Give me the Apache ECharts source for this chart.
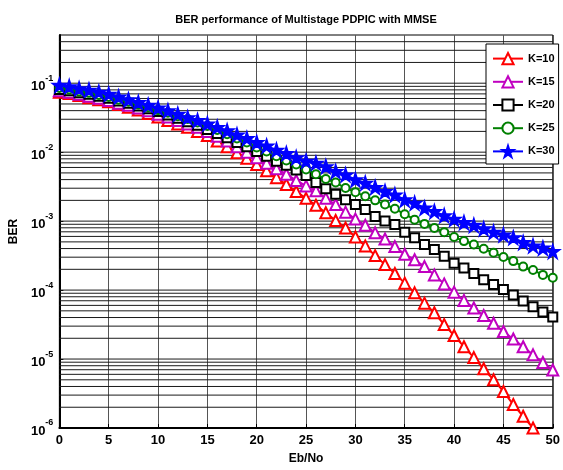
<!DOCTYPE html>
<html>
<head>
<meta charset="utf-8">
<script src="https://cdn.jsdelivr.net/npm/echarts@6/dist/echarts.min.js"></script>
<style>html,body{margin:0;padding:0;background:#fff;}#c{width:563px;height:470px;}</style>
</head>
<body>
<div id="c"></div>
<script>
var ebno = [0,1,2,3,4,5,6,7,8,9,10,11,12,13,14,15,16,17,18,19,20,21,22,23,24,25,26,27,28,29,30,31,32,33,34,35,36,37,38,39,40,41,42,43,44,45,46,47,48,49,50];
var berK10 = [7.41e-2,7.08e-2,6.61e-2,6.17e-2,5.75e-2,5.37e-2,4.90e-2,4.47e-2,4.07e-2,3.63e-2,3.24e-2,2.88e-2,2.57e-2,2.29e-2,2.00e-2,1.74e-2,1.45e-2,1.20e-2,9.77e-3,8.13e-3,6.61e-3,5.37e-3,4.27e-3,3.39e-3,2.69e-3,2.14e-3,1.70e-3,1.32e-3,1.02e-3,7.94e-4,5.89e-4,4.37e-4,3.16e-4,2.34e-4,1.74e-4,1.26e-4,9.12e-5,6.46e-5,4.68e-5,3.16e-5,2.19e-5,1.51e-5,1.05e-5,7.24e-6,5.01e-6,3.39e-6,2.19e-6,1.48e-6,1.00e-6,6.76e-7,4.47e-7];
var berK15 = [7.76e-2,7.41e-2,6.92e-2,6.46e-2,6.03e-2,5.62e-2,5.13e-2,4.79e-2,4.37e-2,3.98e-2,3.55e-2,3.24e-2,2.88e-2,2.57e-2,2.29e-2,2.00e-2,1.70e-2,1.45e-2,1.20e-2,1.00e-2,8.32e-3,6.92e-3,5.75e-3,4.79e-3,3.89e-3,3.24e-3,2.75e-3,2.14e-3,1.74e-3,1.35e-3,1.07e-3,8.71e-4,6.76e-4,5.50e-4,4.27e-4,3.31e-4,2.75e-4,2.19e-4,1.66e-4,1.23e-4,9.33e-5,7.08e-5,5.50e-5,4.27e-5,3.31e-5,2.51e-5,1.95e-5,1.51e-5,1.15e-5,8.91e-6,6.92e-6];
var berK20 = [8.13e-2,7.76e-2,7.24e-2,6.92e-2,6.46e-2,6.03e-2,5.50e-2,5.13e-2,4.68e-2,4.27e-2,3.89e-2,3.47e-2,3.09e-2,2.75e-2,2.45e-2,2.14e-2,1.86e-2,1.62e-2,1.38e-2,1.20e-2,1.02e-2,8.71e-3,7.41e-3,6.46e-3,5.50e-3,4.57e-3,3.63e-3,2.95e-3,2.45e-3,2.04e-3,1.74e-3,1.48e-3,1.17e-3,1.00e-3,8.91e-4,6.92e-4,5.75e-4,4.57e-4,3.89e-4,3.09e-4,2.45e-4,2.09e-4,1.74e-4,1.41e-4,1.20e-4,1.02e-4,8.51e-5,6.92e-5,5.75e-5,4.79e-5,4.07e-5];
var berK25 = [8.51e-2,8.13e-2,7.59e-2,7.24e-2,6.76e-2,6.31e-2,5.75e-2,5.37e-2,4.90e-2,4.47e-2,4.07e-2,3.72e-2,3.31e-2,3.02e-2,2.69e-2,2.40e-2,2.09e-2,1.82e-2,1.58e-2,1.38e-2,1.17e-2,1.02e-2,8.71e-3,7.59e-3,6.61e-3,5.62e-3,4.79e-3,4.07e-3,3.63e-3,3.02e-3,2.63e-3,2.29e-3,2.00e-3,1.74e-3,1.51e-3,1.26e-3,1.05e-3,9.12e-4,7.94e-4,6.92e-4,5.89e-4,5.13e-4,4.57e-4,3.98e-4,3.47e-4,3.02e-4,2.63e-4,2.19e-4,1.95e-4,1.66e-4,1.51e-4];
var berK30 = [9.33e-2,8.91e-2,8.32e-2,7.94e-2,7.41e-2,6.92e-2,6.31e-2,5.75e-2,5.25e-2,4.79e-2,4.37e-2,3.98e-2,3.55e-2,3.16e-2,2.88e-2,2.57e-2,2.29e-2,2.04e-2,1.78e-2,1.58e-2,1.38e-2,1.23e-2,1.07e-2,9.55e-3,8.32e-3,7.41e-3,6.92e-3,6.17e-3,5.25e-3,4.68e-3,3.98e-3,3.55e-3,3.09e-3,2.69e-3,2.40e-3,2.04e-3,1.82e-3,1.55e-3,1.38e-3,1.20e-3,1.07e-3,9.55e-4,8.71e-4,7.76e-4,6.92e-4,6.31e-4,5.75e-4,4.90e-4,4.37e-4,4.07e-4,3.63e-4];

var seriesNames = ['K=10','K=15','K=20','K=25','K=30'];
var xTicks = [0,5,10,15,20,25,30,35,40,45,50];
var yDecades = [-6,-5,-4,-3,-2,-1];
var yMantissas = [1,2,3,4,5,6,7,8,9];
var titleText = 'BER performance of Multistage PDPIC with MMSE';
var xName = 'Eb/No';
var yName = 'BER';

var FONT = "'Liberation Sans',Arial,sans-serif";
var STAR = 'path://M50,0 L61.2,34.5 L97.6,34.5 L68.2,55.9 L79.4,90.5 L50,69.1 L20.6,90.5 L31.8,55.9 L2.4,34.5 L38.8,34.5 Z';
var X_MIN = xTicks[0], X_MAX = xTicks[xTicks.length - 1];
var Y_MIN = 1e-6, Y_MAX = 0.5;

// MATLAB-like log minor grid: one broken line series, segment per grid value
var gridData = [];
yDecades.forEach(function (d) {
  yMantissas.forEach(function (m) {
    var v = m * Math.pow(10, d);
    if (v > Y_MIN * 1.0001 && v < Y_MAX * 0.9999) {
      gridData.push([X_MIN, v], [X_MAX, v], [X_MAX, '-']);
    }
  });
});

function pairs(arr) { return ebno.map(function (x, i) { return [x, arr[i]]; }); }

var styles = [
  { c: '#ff0000', sym: 'emptyTriangle', size: 11, data: berK10 },
  { c: '#c000c0', sym: 'emptyTriangle', size: 11, data: berK15 },
  { c: '#000000', sym: 'emptyRect', size: 9, data: berK20 },
  { c: '#008000', sym: 'emptyCircle', size: 8, data: berK25 },
  { c: '#0000ff', sym: STAR, size: 13, data: berK30 }
];

var series = [{
  type: 'line', name: '_grid', data: gridData, silent: true, z: 1,
  symbol: 'none', connectNulls: false, clip: true,
  lineStyle: { color: '#1a1a1a', width: 1 },
  emphasis: { disabled: true }, tooltip: { show: false }
}];
styles.forEach(function (s, i) {
  series.push({
    type: 'line', name: seriesNames[i], data: pairs(s.data), z: 3 + i,
    symbol: s.sym, symbolSize: s.size, showAllSymbol: true, clip: true,
    lineStyle: { color: s.c, width: 2 },
    itemStyle: { color: s.c, borderColor: s.c, borderWidth: 1.8 },
    emphasis: { disabled: true }
  });
});

var chart = echarts.init(document.getElementById('c'), null, { renderer: 'canvas' });
chart.setOption({
  backgroundColor: '#fff',
  animation: false,
  title: {
    text: titleText, left: 301, top: 9, textAlign: 'center',
    textStyle: { fontFamily: FONT, fontWeight: 'bold', fontSize: 11, color: '#000' }
  },
  legend: {
    data: seriesNames, orient: 'vertical', left: 486, top: 44,
    padding: [8, 4, 6, 6], itemGap: 10, itemWidth: 30, itemHeight: 14,
    backgroundColor: '#fff', borderColor: '#000', borderWidth: 1,
    textStyle: { fontFamily: FONT, fontWeight: 'bold', fontSize: 11, color: '#000' },
    selectedMode: false
  },
  grid: { left: 47, right: 5, top: 35, bottom: 42, show: true, borderColor: '#000', borderWidth: 1, backgroundColor: 'transparent' },
  xAxis: {
    type: 'value', min: X_MIN, max: X_MAX, interval: 5,
    name: xName, nameLocation: 'middle', nameGap: 25,
    nameTextStyle: { fontFamily: FONT, fontWeight: 'bold', fontSize: 12, color: '#000' },
    axisLine: { lineStyle: { color: '#000', width: 2 } },
    axisTick: { inside: true, length: 4, lineStyle: { color: '#000' } },
    axisLabel: { fontFamily: FONT, fontWeight: 'bold', fontSize: 13, color: '#000', margin: 6 },
    splitLine: { show: true, lineStyle: { color: '#555', width: 1 } }
  },
  yAxis: {
    type: 'log', logBase: 10, min: Y_MIN, max: Y_MAX,
    name: yName, nameLocation: 'middle', nameGap: 30, nameRotate: 90,
    nameTextStyle: { fontFamily: FONT, fontWeight: 'bold', fontSize: 12, color: '#000' },
    axisLine: { lineStyle: { color: '#000', width: 2 } },
    axisTick: { inside: true, length: 4, lineStyle: { color: '#000' } },
    splitLine: { show: false },
    axisLabel: {
      margin: 6, showMaxLabel: false,
      formatter: function (v) {
        var e = Math.round(Math.log10(v));
        if (Math.abs(Math.log10(v) - e) > 1e-6) return '';
        return '{b|10}{s|' + e + '}';
      },
      rich: {
        b: { fontFamily: FONT, fontWeight: 'bold', fontSize: 13, color: '#000', verticalAlign: 'bottom' },
        s: { fontFamily: FONT, fontWeight: 'bold', fontSize: 9, color: '#000', verticalAlign: 'top', padding: [0, 0, 10, 0] }
      }
    }
  },
  series: series
});
</script>
</body>
</html>
